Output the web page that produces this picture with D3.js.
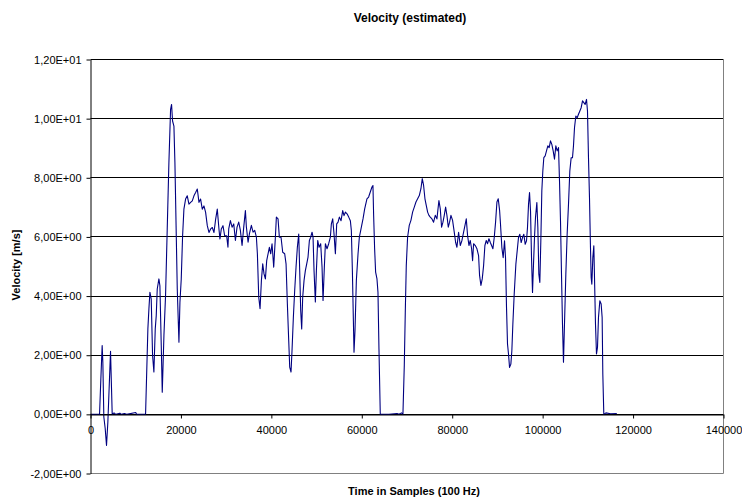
<!DOCTYPE html>
<html>
<head>
<meta charset="utf-8">
<script src="https://cdn.jsdelivr.net/npm/d3@7"></script>
<style>
  body { margin: 0; background: #fff; }
  text { font-family: "Liberation Sans", Arial, sans-serif; }
</style>
</head>
<body>
<div id="chart"></div>
<script>
// time in samples (100 Hz) and estimated velocity in m/s
var samples = [
  0, 2000, 2290, 2580, 2730, 2950, 3250, 3540, 3840, 4060, 4430, 4650, 4800, 5200, 5600, 6500, 6800, 7500, 8000, 10000,
  10200, 12180, 12690, 12920, 13140, 13430, 13730, 14020, 14320, 14540, 14760, 15130, 15350, 15650, 15870, 16240, 16600, 16970, 17340, 17710,
  17930, 18150, 18450, 18670, 18970, 19190, 19560, 19780, 20070, 20370, 20660, 21030, 21400, 21770, 22140, 22510, 22880, 23250, 23620, 23990,
  24350, 24720, 25090, 25460, 25830, 26200, 26570, 26940, 27310, 27680, 28040, 28410, 28630, 28930, 29300, 29670, 30110, 30400, 30570, 30940,
  31310, 31680, 32050, 32410, 32780, 33150, 33520, 33890, 34260, 34480, 34850, 35140, 35580, 35950, 36320, 36690, 36910, 37210, 37500, 37800,
  38090, 38380, 38680, 38970, 39270, 39560, 39860, 40150, 40520, 40890, 41110, 41480, 41770, 42140, 42510, 42950, 43250, 43540, 43840, 44060,
  44350, 44570, 44870, 45160, 45460, 45750, 46050, 46270, 46490, 46710, 46930, 47230, 47520, 47820, 48110, 48410, 48700, 49000, 49220, 49440,
  49730, 49960, 50250, 50550, 50910, 51210, 51430, 51720, 51950, 52310, 52680, 53050, 53270, 53570, 53860, 54160, 54450, 54750, 55040, 55410,
  55780, 56070, 56370, 56740, 57110, 57470, 57690, 57920, 58140, 58280, 58500, 58800, 59170, 59460, 59830, 60270, 60640, 61140, 61510, 61880,
  62250, 62470, 62620, 62840, 63060, 63360, 63580, 63800, 64090, 66000, 67800, 68200, 68800, 69100, 69400, 69620, 69840, 70130, 70500, 70870,
  71240, 71610, 71980, 72350, 72720, 73080, 73380, 73670, 73970, 74260, 74560, 74850, 75150, 75520, 75880, 76250, 76620, 77060, 77360, 77650,
  77950, 78240, 78540, 78830, 79130, 79420, 79720, 80080, 80450, 80750, 81040, 81410, 81780, 82150, 82520, 82890, 83110, 83400, 83700, 83990,
  84290, 84510, 84730, 85100, 85470, 85830, 86050, 86350, 86640, 86940, 87230, 87530, 87820, 88120, 88410, 88710, 89000, 89300, 89590, 89890,
  90180, 90480, 90680, 90980, 91270, 91570, 91790, 92010, 92230, 92450, 92680, 92970, 93190, 93410, 93710, 94080, 94370, 94660, 94960, 95250,
  95550, 95840, 96140, 96430, 96650, 96880, 97100, 97320, 97540, 97760, 97980, 98200, 98420, 98720, 98940, 99160, 99380, 99600, 99820, 100040,
  100260, 100560, 100850, 101150, 101440, 101740, 102030, 102330, 102620, 102920, 103210, 103510, 103730, 103950, 104170, 104390, 104610, 104830, 105130, 105420,
  105720, 106010, 106310, 106600, 106820, 107050, 107340, 107640, 107930, 108230, 108520, 108820, 109110, 109400, 109700, 109920, 110140, 110360, 110580, 110730,
  110880, 111100, 111320, 111470, 111690, 111910, 112130, 112350, 112650, 112940, 113160, 113310, 113530, 114000, 115000, 116400
];
var velocity = [
  0, 0, 1.2, 2.33, 1.77, -0.09, -0.48, -1.05, -0.26, 0.64, 2.13, 0.87, 0, 0.05, 0, 0.04, 0, 0.03, 0, 0.06,
  0, 0, 2.89, 3.57, 4.13, 3.9, 1.99, 1.43, 2.89, 3.34, 4.24, 4.58, 4.35, 2.33, 0.75, 2.67, 4.02, 6.27, 8.52, 10.31,
  10.48, 9.92, 9.75, 8.52, 6.04, 4.24, 2.44, 3.79, 4.58, 6.04, 6.94, 7.28, 7.39, 7.11, 7.17, 7.22, 7.39, 7.5, 7.62, 7.17,
  7.28, 6.94, 7.05, 6.83, 6.38, 6.15, 6.27, 6.32, 6.15, 6.6, 6.94, 6.27, 5.93, 6.27, 6.38, 6.04, 6.04, 5.65, 6.27, 6.55,
  6.33, 6.44, 5.88, 6.33, 6.5, 6.22, 5.71, 6.33, 6.89, 6.33, 5.82, 6.1, 6.39, 6.16, 6.22, 5.99, 5.43, 3.96, 3.57, 4.53,
  5.09, 4.75, 4.58, 5.2, 5.43, 5.65, 5.43, 5.77, 4.98, 5.99, 6.67, 6.61, 5.99, 5.99, 5.48, 5.43, 5.09, 3.74, 2.5, 1.6,
  1.43, 2.16, 3.29, 4.19, 4.98, 5.65, 6.1, 4.86, 3.51, 2.89, 3.96, 4.53, 4.86, 5.09, 5.32, 5.88, 5.99, 6.16, 5.99, 4.86,
  3.8, 4.86, 5.88, 5.65, 5.77, 4.98, 3.85, 4.98, 5.77, 5.6, 5.77, 5.99, 6.44, 6.61, 6.1, 5.43, 6.44, 6.5, 6.67, 6.55,
  6.89, 6.72, 6.84, 6.78, 6.67, 6.55, 6.22, 4.86, 3.18, 2.1, 2.84, 4.53, 5.43, 5.99, 6.27, 6.61, 6.95, 7.29, 7.35, 7.52,
  7.69, 7.74, 6.73, 5.6, 4.81, 4.58, 4.13, 2.21, 0, 0, 0.03, 0, 0.05, 0, 1.65, 3.45, 5.03, 5.99, 6.39, 6.56,
  6.84, 7.01, 7.18, 7.29, 7.4, 7.63, 7.97, 7.74, 7.29, 7.07, 6.84, 6.73, 6.67, 6.61, 6.5, 6.73, 6.61, 7.23, 6.95, 6.33,
  6.5, 6.73, 7.01, 6.73, 6.33, 6.5, 6.73, 6.56, 6.16, 5.82, 5.65, 6.16, 5.71, 5.88, 6.16, 6.44, 6.61, 6.05, 5.71, 5.88,
  5.6, 5.2, 5.77, 5.71, 5.6, 5.37, 4.7, 4.36, 4.58, 5.03, 5.71, 5.88, 5.77, 5.94, 5.82, 5.71, 5.6, 5.99, 6.5, 7.18,
  7.29, 6.9, 6.43, 5.64, 5.3, 5.87, 5.3, 3.61, 2.38, 2.04, 1.59, 1.7, 2.15, 3.05, 4.07, 5.08, 5.53, 5.98, 6.09, 5.81,
  5.98, 6.09, 5.75, 5.87, 6.32, 7.11, 7.5, 6.88, 5.3, 4.12, 5.08, 5.98, 6.66, 7.16, 6.32, 4.74, 4.46, 5.87, 7.56, 8.23,
  8.68, 8.74, 8.91, 9.08, 9.02, 9.25, 9.13, 8.91, 8.63, 9.08, 8.91, 9.02, 7.89, 6.54, 4.74, 3.05, 1.76, 3.05, 4.74, 6.09,
  7.11, 8.23, 8.68, 8.68, 9.08, 9.7, 10.09, 10.03, 10.15, 10.26, 10.37, 10.6, 10.54, 10.48, 10.65, 10.26, 8.68, 7.33, 5.64, 4.63,
  4.4, 5.3, 5.7, 4.63, 3.05, 2.04, 2.26, 3.28, 3.84, 3.73, 3.28, 1.36, 0, 0.05, 0.02, 0.03
];
var xTicks = [0, 20000, 40000, 60000, 80000, 100000, 120000, 140000];
var yTicks = [-2, 0, 2, 4, 6, 8, 10, 12];

var width = 742;
var height = 501;
var plotLeft = 90, plotRight = 723, plotTop = 59, plotBottom = 473;

// excel style "1,20E+01"
function sciLabel(v) {
  if (v === 0) return "0,00E+00";
  var e = Math.floor(Math.log10(Math.abs(v)));
  var m = v / Math.pow(10, e);
  var es = (e < 0 ? "-" : "+") + (Math.abs(e) < 10 ? "0" : "") + Math.abs(e);
  return m.toFixed(2).replace(".", ",") + "E" + es;
}

var svg = d3.select("#chart")
  .append("svg")
  .attr("width", width)
  .attr("height", height);

var x = d3.scaleLinear().domain([0, 140000]).range([plotLeft, plotRight]);
var y = d3.scaleLinear().domain([-2, 12]).range([plotBottom, plotTop]);

var g = svg.append("g").attr("transform", "translate(0.5,0.5)");

// gridlines
g.selectAll("line.grid")
  .data(yTicks.filter(function (d) { return d > -2; }))
  .join("line")
  .attr("class", "grid")
  .attr("x1", plotLeft).attr("x2", plotRight)
  .attr("y1", function (d) { return Math.round(y(d)); })
  .attr("y2", function (d) { return Math.round(y(d)); })
  .attr("stroke", "#000")
  .attr("stroke-width", 1);

// plot border right and bottom
g.append("path")
  .attr("d", "M" + plotLeft + "," + plotBottom + "H" + plotRight + "V" + plotTop)
  .attr("fill", "none")
  .attr("stroke", "#808080");

var line = d3.line()
  .x(function (d, i) { return x(samples[i]); })
  .y(function (d) { return y(d); });

g.append("path")
  .datum(velocity)
  .attr("d", line)
  .attr("fill", "none")
  .attr("stroke", "#000080")
  .attr("stroke-width", 1.1)
  .attr("stroke-linejoin", "round");

// y axis
var yAxis = g.append("g")
  .attr("transform", "translate(" + plotLeft + ",0)")
  .call(d3.axisLeft(y).tickValues(yTicks).tickSize(4).tickSizeOuter(0).tickPadding(5).tickFormat(sciLabel));

// x axis sits on zero
var xAxis = g.append("g")
  .attr("transform", "translate(0," + Math.round(y(0)) + ")")
  .call(d3.axisBottom(x).tickValues(xTicks).tickSize(4).tickSizeOuter(0).tickPadding(8).tickFormat(d3.format("d")));

[yAxis, xAxis].forEach(function (a) {
  a.selectAll("text").style("font-size", "11px").attr("fill", "#000");
  a.selectAll("line").attr("stroke", "#000");
  a.select(".domain").attr("stroke", "#000");
});

svg.append("text")
  .attr("x", 410)
  .attr("y", 22)
  .attr("text-anchor", "middle")
  .style("font-size", "12px")
  .style("font-weight", "bold")
  .text("Velocity (estimated)");

svg.append("text")
  .attr("transform", "translate(20,265) rotate(-90)")
  .attr("text-anchor", "middle")
  .style("font-size", "11px")
  .style("font-weight", "bold")
  .text("Velocity [m/s]");

svg.append("text")
  .attr("x", 414)
  .attr("y", 495)
  .attr("text-anchor", "middle")
  .style("font-size", "11px")
  .style("font-weight", "bold")
  .text("Time in Samples (100 Hz)");
</script>
</body>
</html>
